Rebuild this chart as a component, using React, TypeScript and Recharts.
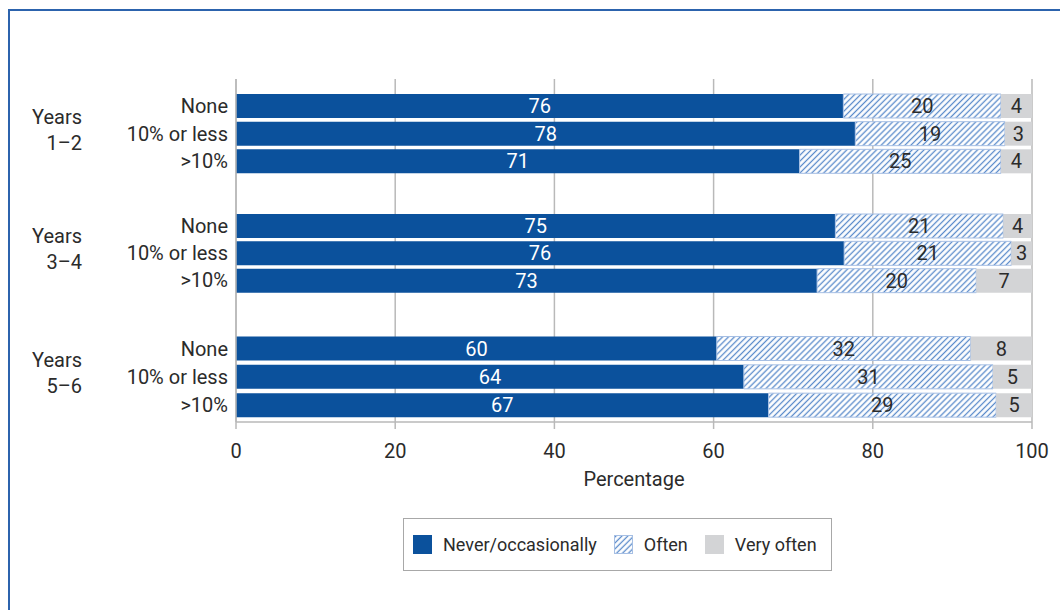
import { BarChart, Bar, XAxis, YAxis, CartesianGrid, LabelList } from 'recharts'

const FONT = "Roboto, 'Liberation Sans', sans-serif"
const TEXT = '#2b2b2b'
const GRID = '#b9b9b9'

// data, one value per row, rows in group order
const groupNames = ['1–2', '3–4', '5–6']
const rowLabels = ['None', '10% or less', '>10%']
const neverOccasionally = [76.3, 77.8, 70.8, 75.3, 76.4, 73.0, 60.4, 63.8, 66.9]
const often = [19.8, 18.8, 25.3, 21.1, 21.0, 20.0, 31.9, 31.3, 28.6]
const veryOften = [3.9, 3.4, 3.9, 3.6, 2.6, 7.0, 7.7, 4.9, 4.5]
const xTicks = [0, 20, 40, 60, 80, 100]

const seriesNames = ['Never/occasionally', 'Often', 'Very often']

// panel layout (one small chart per year group, stacked so the grid runs through)
const panels = [
  { top: 79, height: 114, pad: { top: 13, bottom: 18 } },
  { top: 193, height: 121, pad: { top: 19, bottom: 20 } },
  { top: 314, height: 108, pad: { top: 20.5, bottom: 2.5 } },
]
const AXIS_H = 70

const rowsFor = (g: number) =>
  rowLabels.map((row, i) => ({
    row,
    never: neverOccasionally[g * 3 + i],
    often: often[g * 3 + i],
    veryOften: veryOften[g * 3 + i],
  }))

const fmt = (v: any) => Math.round(Number(v))

function HatchDefs({ id }: { id: string }) {
  return (
    <defs>
      <pattern id={id} patternUnits="userSpaceOnUse" width={4.2} height={4.2} patternTransform="rotate(45)">
        <rect width={4.2} height={4.2} fill="#fff" />
        <line x1={2.1} y1={0} x2={2.1} y2={4.2} stroke="#5a8bcb" strokeWidth={1.3} />
      </pattern>
    </defs>
  )
}

function GroupPanel({ g }: { g: number }) {
  const p = panels[g]
  const last = g === panels.length - 1
  const hatchId = `hatch-${g}`
  const label = (props: any) => {
    const vb = props.viewBox
    const inner = vb.height - p.pad.top - p.pad.bottom
    const cy = vb.y + p.pad.top + inner / 2
    return (
      <g>
        <text x={82} y={cy - 17} textAnchor="end" dominantBaseline="central" fill={TEXT} fontSize={20} fontFamily={FONT}>
          Years
        </text>
        <text x={82} y={cy + 9} textAnchor="end" dominantBaseline="central" fill={TEXT} fontSize={20} fontFamily={FONT}>
          {groupNames[g]}
        </text>
      </g>
    )
  }
  return (
    <div style={{ position: 'absolute', left: 0, top: p.top }}>
      <BarChart
        width={1060}
        height={p.height + (last ? AXIS_H : 0)}
        data={rowsFor(g)}
        layout="vertical"
        margin={{ top: 0, right: 28, bottom: 0, left: 126 }}
        barSize={24}
      >
        <HatchDefs id={hatchId} />
        <CartesianGrid horizontal={false} stroke={GRID} strokeWidth={1.5} />
        <XAxis
          type="number"
          domain={[0, 100]}
          ticks={xTicks}
          hide={!last}
          height={last ? AXIS_H : 0}
          stroke={GRID}
          strokeWidth={1.5}
          tickSize={7}
          tickMargin={15}
          tick={{ fill: TEXT, fontSize: 20, fontFamily: FONT }}
          label={{ value: 'Percentage', position: 'insideBottom', offset: 6, fill: TEXT, fontSize: 20, fontFamily: FONT }}
        />
        <YAxis
          type="category"
          dataKey="row"
          width={110}
          padding={p.pad}
          interval={0}
          tickLine={false}
          tickSize={0}
          tickMargin={8}
          axisLine={{ stroke: GRID, strokeWidth: 1.5 }}
          tick={{ fill: TEXT, fontSize: 20, fontFamily: FONT }}
          label={label}
        />
        <Bar dataKey="never" stackId="s" fill="#0b519c" isAnimationActive={false}>
          <LabelList dataKey="never" position="center" formatter={fmt} fill="#fff" fontSize={20} fontFamily={FONT} />
        </Bar>
        <Bar dataKey="often" stackId="s" fill={`url(#${hatchId})`} stroke="#a6bfe4" strokeWidth={1} isAnimationActive={false}>
          <LabelList dataKey="often" position="center" formatter={fmt} fill={TEXT} fontSize={20} fontFamily={FONT} />
        </Bar>
        <Bar dataKey="veryOften" stackId="s" fill="#d3d4d6" isAnimationActive={false}>
          <LabelList dataKey="veryOften" position="center" formatter={fmt} fill={TEXT} fontSize={20} fontFamily={FONT} />
        </Bar>
      </BarChart>
    </div>
  )
}

function Swatch({ i }: { i: number }) {
  return (
    <svg width={19} height={19} style={{ display: 'block', flex: 'none' }}>
      <HatchDefs id="hatch-legend" />
      {i === 0 && <rect width={19} height={19} fill="#0b519c" />}
      {i === 1 && <rect x={0.5} y={0.5} width={18} height={18} fill="url(#hatch-legend)" stroke="#a6bfe4" />}
      {i === 2 && <rect width={19} height={19} fill="#d3d4d6" />}
    </svg>
  )
}

export default function App() {
  return (
    <div
      style={{
        position: 'absolute',
        left: 0,
        top: 0,
        width: 1060,
        height: 610,
        background: '#fff',
        overflow: 'hidden',
        fontFamily: FONT,
      }}
    >
      <div
        style={{
          position: 'absolute',
          left: 8,
          top: 9,
          width: 1100,
          height: 700,
          borderTop: '2px solid #2c63ad',
          borderLeft: '2px solid #2c63ad',
        }}
      />
      {panels.map((_, g) => (
        <GroupPanel key={g} g={g} />
      ))}
      <div
        style={{
          position: 'absolute',
          left: 403,
          top: 518,
          width: 429,
          height: 53,
          border: '1px solid #a8a8a8',
          display: 'flex',
          alignItems: 'center',
          paddingLeft: 9,
          boxSizing: 'border-box',
          color: TEXT,
          fontSize: 18,
          whiteSpace: 'nowrap',
        }}
      >
        {seriesNames.map((name, i) => (
          <div key={name} style={{ display: 'flex', alignItems: 'center', marginRight: 17 }}>
            <Swatch i={i} />
            <span style={{ marginLeft: 11 }}>{name}</span>
          </div>
        ))}
      </div>
    </div>
  )
}
